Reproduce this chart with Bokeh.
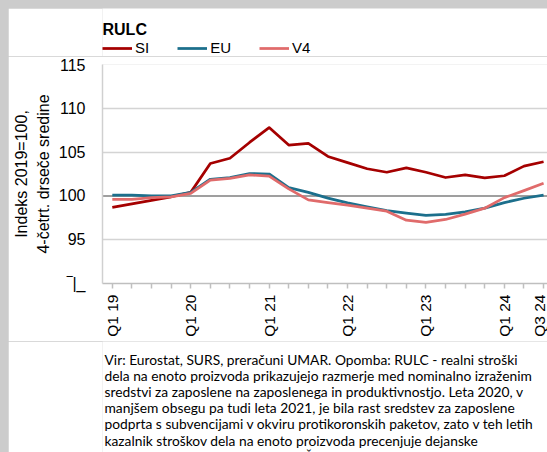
import math
from bokeh.plotting import figure
from bokeh.layouts import column
from bokeh.models import (FixedTicker, Span, Legend, LegendItem, Range1d,
                          LinearAxis)
from bokeh.core.properties import value
from bokeh.embed import file_html
from bokeh.resources import INLINE

# ---------------- data ----------------
quarters = ["Q1 19", "Q2 19", "Q3 19", "Q4 19",
            "Q1 20", "Q2 20", "Q3 20", "Q4 20",
            "Q1 21", "Q2 21", "Q3 21", "Q4 21",
            "Q1 22", "Q2 22", "Q3 22", "Q4 22",
            "Q1 23", "Q2 23", "Q3 23", "Q4 23",
            "Q1 24", "Q2 24", "Q3 24"]
shown_ticks = ["Q1 19", "Q1 20", "Q1 21", "Q1 22", "Q1 23", "Q1 24", "Q3 24"]

si = [98.7, 99.1, 99.5, 99.9, 100.4, 103.7, 104.3, 106.1, 107.8, 105.8, 106.0,
      104.5, 103.8, 103.1, 102.7, 103.2, 102.7, 102.1, 102.4, 102.05, 102.3,
      103.4, 103.9]
eu = [100.1, 100.1, 100.0, 100.0, 100.4, 101.9, 102.1, 102.55, 102.5, 100.95,
      100.4, 99.75, 99.2, 98.75, 98.33, 98.03, 97.77, 97.88, 98.18, 98.6,
      99.24, 99.73, 100.1]
v4 = [99.6, 99.6, 99.8, 99.9, 100.3, 101.8, 102.0, 102.4, 102.25, 100.8, 99.55,
      99.24, 98.94, 98.6, 98.25, 97.23, 96.97, 97.31, 97.92, 98.6, 99.8, 100.6,
      101.44]
series_names = ["SI", "EU", "V4"]

y_ticks = [90, 95, 100, 105, 110, 115]
grid_ticks = [95, 105, 110, 115]
baseline_value = 100
axis_break_label = "‾|_"

title_text = "RULC"
y_title_1 = "Indeks 2019=100,"
y_title_2 = "4-četrt. drseče sredine"
note_lines = [
    "Vir: Eurostat, SURS, preračuni UMAR. Opomba: RULC - realni stroški",
    "dela na enoto proizvoda prikazujejo razmerje med nominalno izraženim",
    "sredstvi za zaposlene na zaposlenega in produktivnostjo. Leta 2020, v",
    "manjšem obsegu pa tudi leta 2021, je bila rast sredstev za zaposlene",
    "podprta s subvencijami v okviru protikoronskih paketov, zato v teh letih",
    "kazalnik stroškov dela na enoto proizvoda precenjuje dejanske",
    "stroškovne pritiske podjetij. V4 - Češka, Slovaška, Madžarska, Poljska.",
]

# ---------------- layout ----------------
W = 539
FL = 94                 # left border shared by all three figures
FW = W - FL             # frame width
H0 = 48                 # header (title + legend)
H1 = 285                # chart
H2 = 125                # note text (bottom is cut by the window, as in the original)
FRAME_H = 219
FT1 = 8
FB1 = H1 - FT1 - FRAME_H
x0, x1 = -0.5, 22.2
y0, y1 = 90, 115

FONT = "Liberation Sans"
NOTE_FONT = "Lato"
COLORS = ["#a50000", "#1c6f8c", "#e06b6b"]

def blank_figure(h):
    f = figure(width=W, height=h, output_backend="svg", toolbar_location=None,
               x_range=Range1d(0, FW), y_range=Range1d(h, 0),
               x_axis_type=None, y_axis_type=None,
               min_border_left=FL, min_border_right=0,
               min_border_top=0, min_border_bottom=0)
    f.outline_line_color = None
    f.xgrid.visible = False
    f.ygrid.visible = False
    f.background_fill_color = "white"
    f.border_fill_color = "white"
    return f

# ---------------- header: title + legend ----------------
p0 = blank_figure(H0)
p0.text(x=[0], y=[21], text=[title_text], text_font=value(FONT),
        text_font_size="16px", text_font_style="bold", text_align="left",
        text_baseline="alphabetic", text_color="#000000")
# legend keys (one NaN point each, so nothing is drawn in the header itself)
proxies = [p0.line(x=[float("nan")], y=[float("nan")], line_color=c,
                   line_width=2.75) for c in COLORS]
legend = Legend(items=[LegendItem(label=n, renderers=[r])
                       for n, r in zip(series_names, proxies)],
                orientation="horizontal", location=(0, 0),
                glyph_width=30, glyph_height=12, label_height=12,
                label_standoff=3, spacing=28,
                padding=0, margin=0, label_width=0,
                border_line_color=None, background_fill_alpha=0,
                label_text_font=FONT, label_text_font_size="15px",
                label_text_color="#000000")
p0.add_layout(legend)

# ---------------- chart ----------------
p = figure(width=W, height=H1, output_backend="svg", toolbar_location=None,
           x_range=Range1d(x0, x1), y_range=Range1d(y0, y1),
           min_border_left=FL, min_border_top=FT1, min_border_bottom=FB1,
           min_border_right=0)
p.outline_line_color = None
p.background_fill_color = "white"
p.border_fill_color = "white"

xs = list(range(len(quarters)))

p.xgrid.visible = False
p.ygrid.ticker = FixedTicker(ticks=grid_ticks)
p.ygrid.grid_line_color = "#d4d4d4"
p.ygrid.grid_line_width = 1.5

p.add_layout(Span(location=baseline_value, dimension="width",
                  line_color="#7f7f7f", line_width=1.5, level="underlay"))

for ys, c in zip([si, eu, v4], COLORS):
    p.line(xs, ys, line_color=c, line_width=2.75, line_join="round")

ya = p.yaxis[0]
ya.ticker = FixedTicker(ticks=y_ticks)
ya.major_label_overrides = {90: axis_break_label}
ya.major_tick_out = 0
ya.major_tick_in = 0
ya.minor_tick_out = 0
ya.minor_tick_in = 0
ya.major_label_standoff = 17
ya.major_label_text_font = FONT
ya.major_label_text_font_size = "16px"
ya.major_label_text_color = "#000000"
ya.axis_line_color = "#d0d0d0"
ya.axis_line_width = 1.5

def title_axis(text, standoff):
    ax = LinearAxis(axis_label=text, ticker=FixedTicker(ticks=[]))
    ax.axis_line_color = None
    ax.major_tick_line_color = None
    ax.minor_tick_line_color = None
    ax.major_tick_out = 0
    ax.major_tick_in = 0
    ax.minor_tick_out = 0
    ax.minor_tick_in = 0
    ax.major_label_standoff = 0
    ax.axis_label_standoff = standoff
    ax.axis_label_text_font = FONT
    ax.axis_label_text_font_size = "16px"
    ax.axis_label_text_font_style = "normal"
    ax.axis_label_text_color = "#000000"
    return ax

p.add_layout(title_axis(y_title_2, 4), "left")
p.add_layout(title_axis(y_title_1, 2), "left")

xa = p.xaxis[0]
xa.ticker = FixedTicker(ticks=xs)
xa.major_label_overrides = {i: (q if q in shown_ticks else "") for i, q in enumerate(quarters)}
xa.major_label_orientation = math.pi / 2
xa.major_tick_out = 5
xa.major_tick_in = 0
xa.minor_tick_out = 0
xa.minor_tick_in = 0
xa.major_tick_line_color = "#bfbfbf"
xa.major_tick_line_width = 1.5
xa.axis_line_color = "#bfbfbf"
xa.axis_line_width = 1.5
xa.major_label_standoff = 6
xa.major_label_text_font = FONT
xa.major_label_text_font_size = "15.5px"
xa.major_label_text_color = "#000000"

# ---------------- note text ----------------
p2 = blank_figure(H2)
p2.text(x=[2] * len(note_lines), y=[18.0 + 16.1 * k for k in range(len(note_lines))],
        text=note_lines, text_font=value(NOTE_FONT), text_font_size="13.8px",
        text_align="left", text_baseline="alphabetic", text_color="#000000")

layout = column(p0, p, p2, spacing=0)

html = file_html(layout, INLINE, title="RULC")
html = html.replace(
    "</head>",
    "<style>html,body{margin:0;padding:0;overflow:hidden;background:#cccccc;}"
    "body{padding:8px 0 0 8px;}</style></head>", 1)
open("out.html", "w").write(html)
